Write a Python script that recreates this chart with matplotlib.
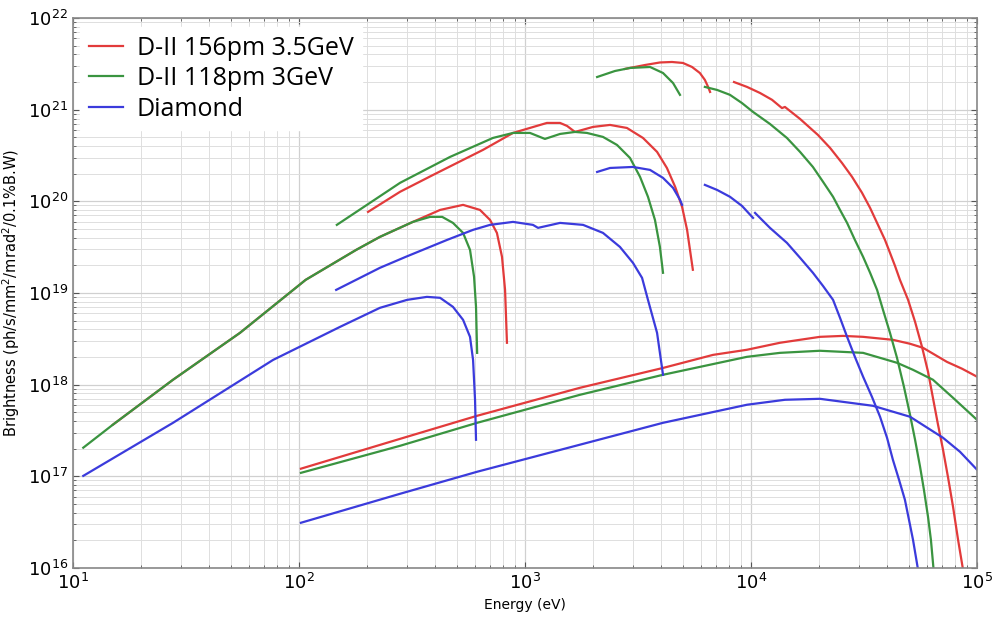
import matplotlib
matplotlib.use('Agg')
from matplotlib import pyplot as plt

# colours of the three sources
red = '#e23b3b'
green = '#3a9440'
blue = '#3b3bdc'

# ---- D-II 156pm 3.5GeV (red) ----
red_e1 = [15.0, 27.7, 54.8, 107, 179, 228, 319, 421, 532, 632, 700, 751, 791, 816, 826, 832]
red_b1 = [3.65e17, 1.13e18, 3.67e18, 1.39e19, 2.95e19, 4.09e19, 5.96e19, 8.05e19, 9.14e19,
          8.05e19, 6.27e19, 4.52e19, 2.48e19, 1.08e19, 4.72e18, 2.86e18]
red_e2 = [202, 280, 392, 652, 885, 1250, 1429, 1535, 1664, 2000, 2378, 2825, 3327, 3840, 4245,
          4616, 4955, 5214, 5370, 5530]
red_b2 = [7.66e19, 1.27e20, 1.94e20, 3.64e20, 5.57e20, 7.16e20, 7.16e20, 6.64e20, 5.71e20,
          6.48e20, 6.81e20, 6.31e20, 4.91e20, 3.46e20, 2.31e20, 1.44e20, 8.69e19, 4.88e19,
          2.95e19, 1.79e19]
red_e3 = [2765, 3400, 3953, 4470, 5000, 5484, 5940, 6250, 6460, 6590]
red_b3 = [2.78e21, 3.07e21, 3.27e21, 3.31e21, 3.23e21, 2.92e21, 2.51e21, 2.11e21, 1.77e21, 1.56e21]
red_e4 = [8410, 9600, 10960, 12390, 13710, 14130, 16480, 19770, 22390, 25270, 27990, 30980,
          33650, 36470, 39160, 41210, 43350, 45610, 49550, 53210, 57110, 60720, 63830, 67100,
          70740, 74500, 78340, 82460, 86720]
red_b4 = [2.00e21, 1.77e21, 1.52e21, 1.28e21, 1.04e21, 1.07e21, 7.92e20, 5.30e20, 3.82e20,
          2.62e20, 1.85e20, 1.24e20, 8.47e19, 5.53e19, 3.79e19, 2.74e19, 1.98e19, 1.39e19,
          8.41e18, 4.84e18, 2.58e18, 1.38e18, 7.18e17, 3.74e17, 1.95e17, 9.64e16, 4.65e16,
          2.03e16, 9.6e15]
red_e5 = [102, 280, 614, 1750, 4080, 6790, 9600, 13430, 20180, 25540, 31330, 42460, 50550,
          57700, 73620, 85900, 100000]
red_b5 = [1.21e17, 2.56e17, 4.57e17, 9.23e17, 1.52e18, 2.11e18, 2.40e18, 2.86e18, 3.32e18,
          3.40e18, 3.32e18, 3.08e18, 2.79e18, 2.52e18, 1.77e18, 1.49e18, 1.22e18]

# ---- D-II 118pm 3GeV (green) ----
green_e1 = [11.1, 15.0, 27.7, 54.8, 107, 179, 228, 319, 380, 430, 480, 532, 571, 595, 607, 614]
green_b1 = [2.05e17, 3.65e17, 1.13e18, 3.67e18, 1.39e19, 2.95e19, 4.09e19, 5.96e19, 6.76e19,
            6.76e19, 5.81e19, 4.52e19, 2.95e19, 1.50e19, 7.05e18, 2.22e18]
green_e2 = [147, 280, 466, 721, 885, 1052, 1225, 1429, 1664, 1879, 2213, 2553, 2915, 3228,
            3500, 3758, 3953, 4080]
green_b2 = [5.53e19, 1.59e20, 3.05e20, 4.91e20, 5.57e20, 5.57e20, 4.79e20, 5.43e20, 5.71e20,
            5.57e20, 5.04e20, 4.12e20, 2.97e20, 1.85e20, 1.12e20, 6.27e19, 3.18e19, 1.66e19]
green_e3 = [2085, 2500, 2915, 3575, 4080, 4520, 4850]
green_b3 = [2.27e21, 2.64e21, 2.85e21, 2.92e21, 2.51e21, 1.95e21, 1.45e21]
green_e4 = [6250, 7080, 8070, 9120, 10210, 12130, 14420, 16480, 18790, 20840, 23070, 24770,
            26620, 28820, 31330, 33650, 36130, 38370, 41210, 44260, 47510, 50550, 53210,
            55990, 58230, 60720, 62530, 64570]
green_b4 = [1.77e21, 1.64e21, 1.45e21, 1.18e21, 9.44e20, 6.98e20, 4.91e20, 3.46e20, 2.37e20,
            1.63e20, 1.12e20, 8.05e19, 5.81e19, 3.79e19, 2.48e19, 1.66e19, 1.08e19, 6.55e18,
            3.67e18, 1.96e18, 9.46e17, 4.69e17, 2.50e17, 1.27e17, 7.13e16, 3.61e16, 2.03e16,
            8.4e15]
green_e5 = [102, 280, 614, 1750, 4080, 9600, 13430, 20180, 31330, 44260, 52100, 63830,
            78340, 100000]
green_b5 = [1.09e17, 2.15e17, 3.83e17, 7.74e17, 1.28e18, 2.01e18, 2.22e18, 2.34e18, 2.22e18,
            1.73e18, 1.45e18, 1.13e18, 7.18e17, 4.13e17]

# ---- Diamond (blue) ----
blue_e1 = [11.1, 27.7, 76.8, 152, 228, 301, 368, 421, 480, 532, 571, 589, 601, 607]
blue_b1 = [1.01e17, 3.83e17, 1.86e18, 4.27e18, 6.88e18, 8.41e18, 9.06e18, 8.85e18, 7.05e18,
           5.09e18, 3.32e18, 1.86e18, 6.83e17, 2.50e17]
blue_e2 = [146, 228, 297, 452, 589, 700, 885, 1084, 1142, 1429, 1807, 2213, 2630, 3004,
           3296, 3500, 3840, 4080]
blue_b2 = [1.08e19, 1.88e19, 2.48e19, 3.79e19, 4.88e19, 5.53e19, 5.96e19, 5.53e19, 5.13e19,
           5.81e19, 5.53e19, 4.52e19, 3.18e19, 2.13e19, 1.46e19, 8.41e18, 3.67e18, 1.28e18]
blue_e3 = [2085, 2378, 3004, 3575, 4080, 4520, 4850, 4955]
blue_b3 = [2.09e20, 2.31e20, 2.37e20, 2.20e20, 1.80e20, 1.40e20, 1.04e20, 9.14e19]
blue_e4 = [6250, 7080, 8070, 9120, 10210]
blue_b4 = [1.51e20, 1.33e20, 1.12e20, 8.91e19, 6.59e19]
blue_e5 = [10420, 12130, 14420, 16480, 18790, 20840, 23070, 24770, 26620, 28820, 31330,
           34290, 37240, 39990, 42460, 45190, 47970, 50000, 52100, 54830]
blue_b5 = [7.47e19, 5.13e19, 3.52e19, 2.42e19, 1.66e19, 1.19e19, 8.41e18, 5.35e18, 3.32e18,
           2.01e18, 1.22e18, 7.36e17, 4.46e17, 2.63e17, 1.51e17, 9.16e16, 5.55e16, 3.36e16,
           2.03e16, 9.6e15]
blue_e6 = [102, 280, 614, 1750, 4080, 9600, 14130, 20180, 34670, 50550, 70740, 84100, 100000]
blue_b6 = [3.11e16, 6.44e16, 1.12e17, 2.21e17, 3.83e17, 6.03e17, 6.83e17, 7.00e17, 5.87e17,
           4.46e17, 2.63e17, 1.85e17, 1.18e17]

series = [
    ('D-II 156pm 3.5GeV', red, [(red_e1, red_b1), (red_e2, red_b2), (red_e3, red_b3),
                                (red_e4, red_b4), (red_e5, red_b5)]),
    ('D-II 118pm 3GeV', green, [(green_e1, green_b1), (green_e2, green_b2), (green_e3, green_b3),
                                (green_e4, green_b4), (green_e5, green_b5)]),
    ('Diamond', blue, [(blue_e1, blue_b1), (blue_e2, blue_b2), (blue_e3, blue_b3),
                       (blue_e4, blue_b4), (blue_e5, blue_b5), (blue_e6, blue_b6)]),
]

figure = plt.figure(figsize=(9.95, 6.2), dpi=100)
axis = figure.add_axes([0.0734, 0.084, 0.9085, 0.887])

for label, colour, segments in series:
    for index, (energy, brightness) in enumerate(segments):
        axis.plot(energy, brightness, color=colour, lw=1.6, solid_joinstyle='round',
                  label=label if index == 0 else None)

axis.set_xscale('log')
axis.set_yscale('log')
axis.set_xlim(10, 1e5)
axis.set_ylim(1e16, 1e22)

axis.grid(True, which='major', color='#d0d0d0', lw=0.9, ls='-')
axis.grid(True, which='minor', color='#dedede', lw=0.7, ls='-')
axis.set_axisbelow(True)

axis.tick_params(which='both', direction='in', top=True, right=True, colors='#555555',
                 labelcolor='black')
axis.tick_params(which='major', length=4, labelsize=13)
axis.tick_params(which='minor', length=2)
for spine in axis.spines.values():
    spine.set_color('#888888')
    spine.set_linewidth(1.2)

axis.set_xlabel('Energy (eV)', fontsize=10, labelpad=4)
axis.set_ylabel('Brightness (ph/s/mm$^2$/mrad$^2$/0.1%B.W)', fontsize=10.5, labelpad=4)

legend = axis.legend(loc='upper left', bbox_to_anchor=(0.008, 0.984), borderaxespad=0,
                     frameon=True, fancybox=False, handlelength=1.35, handletextpad=0.55,
                     borderpad=0.35, labelspacing=0.22,
                     prop={'family': 'Open Sans', 'size': 18})
legend.get_frame().set_edgecolor('white')
legend.get_frame().set_alpha(1.0)

plt.savefig('out.png', dpi=100)
